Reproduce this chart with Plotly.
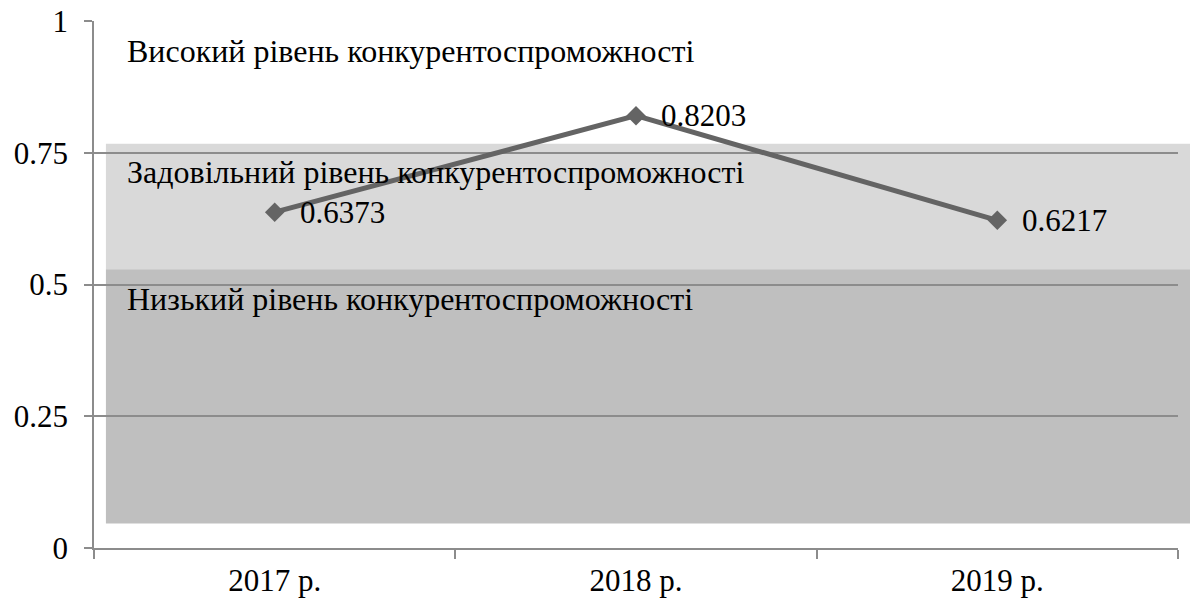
import plotly.graph_objects as go

# Competitiveness index by year
years = ["2017 р.", "2018 р.", "2019 р."]
index_values = [0.6373, 0.8203, 0.6217]

# Competitiveness zones (lower bound, upper bound)
zone_bounds_satisfactory = [0.529, 0.767]
zone_bounds_low = [0.0466, 0.529]
zone_labels = [
    "Високий рівень конкурентоспроможності",
    "Задовільний рівень конкурентоспроможності",
    "Низький рівень конкурентоспроможності",
]
zone_label_y = [0.943, 0.713, 0.473]

y_ticks = [0, 0.25, 0.5, 0.75, 1]
y_tick_text = ["0", "0.25", "0.5", "0.75", "1"]

FONT = "Liberation Serif, Times New Roman, serif"
GRID = "#8c8c8c"
LINE = "#646464"
NUM_SIZE = 31

fig = go.Figure()

fig.add_trace(
    go.Scatter(
        x=years,
        y=index_values,
        mode="lines+markers",
        line=dict(color=LINE, width=5),
        marker=dict(symbol="diamond", size=15, color=LINE),
        cliponaxis=False,
        showlegend=False,
        hoverinfo="skip",
    )
)

# Value labels to the right of each point
for yr, v in zip(years, index_values):
    fig.add_annotation(
        x=yr, y=v, xref="x", yref="y",
        text=f"{v:.4f}", showarrow=False,
        xanchor="left", yanchor="middle",
        xshift=23, yshift=0,
        font=dict(family=FONT, size=NUM_SIZE, color="black"),
    )

# Shaded zone bands
fig.add_shape(
    type="rect", xref="paper", yref="y",
    x0=0.011, x1=1.02, y0=zone_bounds_satisfactory[0], y1=zone_bounds_satisfactory[1],
    fillcolor="#d9d9d9", line=dict(width=0), layer="below",
)
fig.add_shape(
    type="rect", xref="paper", yref="y",
    x0=0.011, x1=1.02, y0=zone_bounds_low[0], y1=zone_bounds_low[1],
    fillcolor="#bfbfbf", line=dict(width=0), layer="below",
)

for label, ly in zip(zone_labels, zone_label_y):
    fig.add_annotation(
        text=label, xref="paper", yref="y", x=0.0285, y=ly,
        xanchor="left", yanchor="middle", showarrow=False,
        font=dict(family=FONT, size=32, color="black"),
    )

fig.update_layout(
    width=1190,
    height=605,
    margin=dict(l=94, r=12, t=21, b=57, autoexpand=False),
    plot_bgcolor="white",
    paper_bgcolor="white",
    font=dict(family=FONT, size=NUM_SIZE, color="black"),
    showlegend=False,
)

fig.update_xaxes(
    type="category",
    tickson="boundaries",
    ticks="outside",
    ticklen=9,
    tickwidth=1.5,
    tickcolor=GRID,
    showline=True,
    linecolor=GRID,
    linewidth=1.5,
    showgrid=False,
    automargin=False,
    tickfont=dict(family=FONT, size=NUM_SIZE, color="black"),
    ticklabelstandoff=4,
    range=[-0.5, 2.5],
)

fig.update_yaxes(
    range=[0, 1],
    tickvals=y_ticks,
    ticktext=y_tick_text,
    ticks="outside",
    ticklen=8,
    tickwidth=1.5,
    tickcolor=GRID,
    showline=True,
    linecolor=GRID,
    linewidth=1.5,
    showgrid=True,
    gridcolor=GRID,
    gridwidth=1.5,
    zeroline=False,
    automargin=False,
    tickfont=dict(family=FONT, size=NUM_SIZE, color="black"),
    ticklabelstandoff=10,
)

fig.write_html("out.html")
